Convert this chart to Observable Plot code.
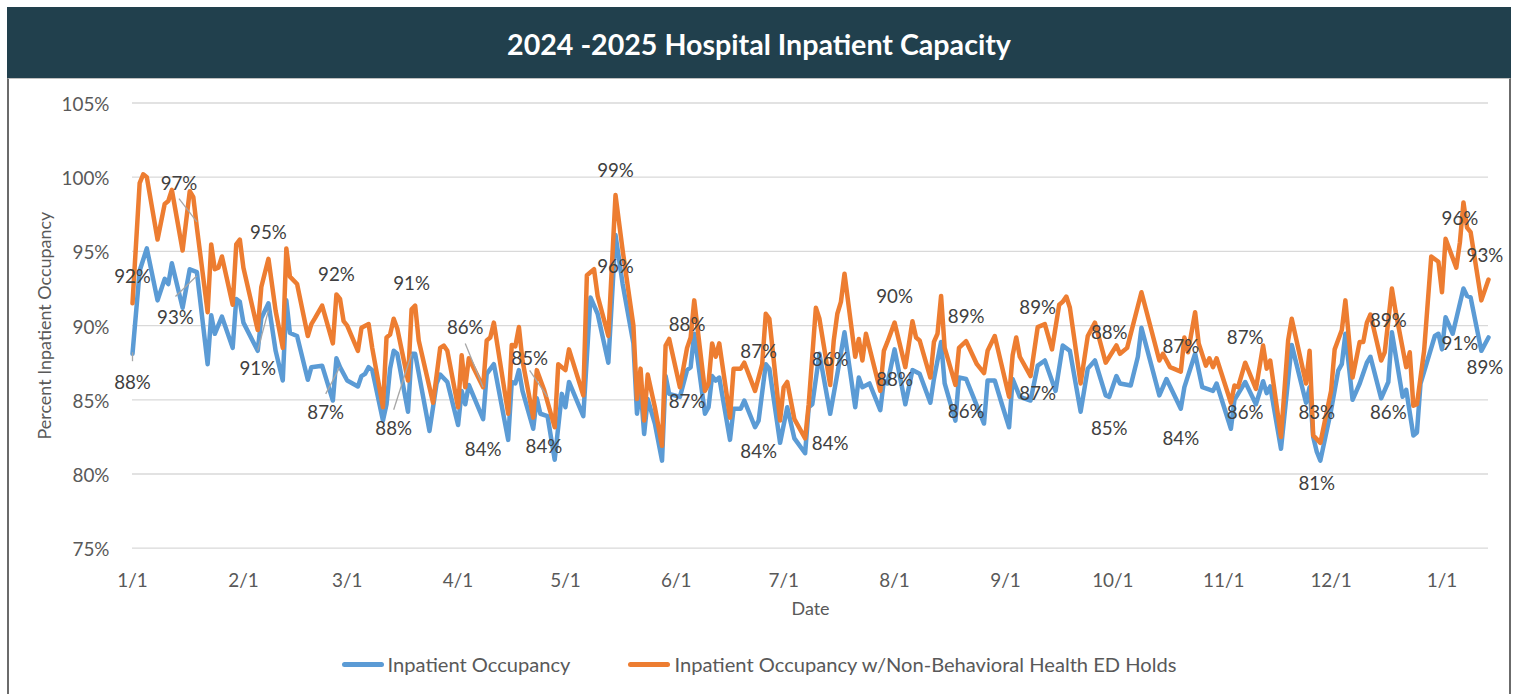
<!DOCTYPE html>
<html><head><meta charset="utf-8">
<script src="https://cdn.jsdelivr.net/npm/d3@7"></script>
<script src="https://cdn.jsdelivr.net/npm/@observablehq/plot@0.6"></script>
<style>
html,body{margin:0;padding:0;background:#fff;}
body{width:1518px;height:694px;position:relative;overflow:hidden;font-family:Lato,sans-serif;}
#titlebar{position:absolute;left:7px;top:7px;width:1504px;height:71px;background:#21404d;color:#fff;font-weight:700;display:flex;align-items:center;justify-content:center;box-sizing:border-box;padding-top:3px;}
#frame{position:absolute;left:7px;top:78px;width:1500px;height:640px;border-left:2px solid #6b6b6b;border-right:2px solid #6b6b6b;border-top:1px solid #bfbfbf;}
#chart{position:absolute;left:0;top:78px;}
#legend{position:absolute;left:0;top:648px;width:1518px;height:32px;display:flex;align-items:center;justify-content:center;color:#595959;}
.item{display:flex;align-items:center;white-space:nowrap;}
.sw{display:inline-block;width:42px;height:5px;border-radius:3px;margin-right:4px;}
</style></head>
<body>
<div id="titlebar"></div><div id="frame"></div><div id="chart"></div><div id="legend"></div>
<script>
const titleText = "2024 -2025 Hospital Inpatient Capacity";
const yTitle = "Percent Inpatient Occupancy";
const xTitle = "Date";
const seriesNames = ["Inpatient Occupancy", "Inpatient Occupancy w/Non-Behavioral Health ED Holds"];
const seriesColors = ["#5b9bd5", "#ed7d31"];
const yTicks = [75, 80, 85, 90, 95, 100, 105];
const xTicks = ["2024-01-01","2024-02-01","2024-03-01","2024-04-01","2024-05-01","2024-06-01","2024-07-01","2024-08-01","2024-09-01","2024-10-01","2024-11-01","2024-12-01","2025-01-01"];
const xDomain = ["2024-01-01", "2025-01-14"];

// Inpatient Occupancy (%) at the line's vertices
const occupancy = [
["2024-01-01",88.1],["2024-01-03",93.7],["2024-01-05",95.2],["2024-01-08",91.7],["2024-01-10",93.15],["2024-01-11",92.8],["2024-01-12",94.2],["2024-01-15",91.2],["2024-01-17",93.8],["2024-01-19",93.6],["2024-01-22",87.4],["2024-01-23",90.7],["2024-01-24",89.45],["2024-01-26",90.6],["2024-01-29",88.5],["2024-01-30",91.8],["2024-01-31",91.6],
["2024-02-01",90.2],["2024-02-05",88.3],["2024-02-06",90.5],["2024-02-08",91.5],["2024-02-10",88.3],["2024-02-12",86.3],["2024-02-13",91.7],["2024-02-14",89.5],["2024-02-16",89.3],["2024-02-19",86.35],["2024-02-20",87.2],["2024-02-23",87.3],["2024-02-26",84.95],["2024-02-27",87.8],["2024-02-28",87.2],
["2024-03-01",86.3],["2024-03-04",85.9],["2024-03-05",86.6],["2024-03-06",86.75],["2024-03-07",87.2],["2024-03-08",87.0],["2024-03-11",83.6],["2024-03-12",84.7],["2024-03-13",87.1],["2024-03-14",88.3],["2024-03-15",88.1],["2024-03-18",84.2],["2024-03-19",88.1],["2024-03-20",88.1],["2024-03-24",82.9],["2024-03-26",86.1],["2024-03-27",86.7],["2024-03-29",86.2],
["2024-04-01",83.3],["2024-04-02",85.6],["2024-04-03",84.7],["2024-04-04",86.0],["2024-04-08",83.7],["2024-04-09",86.75],["2024-04-11",87.4],["2024-04-15",82.3],["2024-04-16",86.2],["2024-04-17",86.1],["2024-04-18",87.0],["2024-04-19",85.6],["2024-04-22",83.05],["2024-04-23",85.1],["2024-04-24",84.06],["2024-04-26",83.9],["2024-04-28",80.96],["2024-04-30",85.4],
["2024-05-01",84.5],["2024-05-02",86.2],["2024-05-06",83.9],["2024-05-08",91.9],["2024-05-10",90.8],["2024-05-13",87.5],["2024-05-15",96.1],["2024-05-17",92.8],["2024-05-20",88.8],["2024-05-21",84.06],["2024-05-22",85.85],["2024-05-23",82.7],["2024-05-24",85.05],["2024-05-26",83.4],["2024-05-28",80.9],["2024-05-29",86.6],["2024-05-30",85.4],
["2024-06-02",85.2],["2024-06-04",87.0],["2024-06-05",87.2],["2024-06-06",89.45],["2024-06-09",84.06],["2024-06-10",84.5],["2024-06-11",86.6],["2024-06-12",86.3],["2024-06-13",86.5],["2024-06-16",82.3],["2024-06-17",84.4],["2024-06-19",84.4],["2024-06-20",84.95],["2024-06-23",83.15],["2024-06-24",83.6],["2024-06-26",87.4],["2024-06-27",87.1],["2024-06-30",82.1],
["2024-07-02",84.5],["2024-07-04",82.4],["2024-07-07",81.4],["2024-07-08",84.5],["2024-07-09",84.7],["2024-07-11",88.1],["2024-07-14",84.06],["2024-07-16",86.75],["2024-07-18",89.55],["2024-07-21",84.5],["2024-07-22",86.5],["2024-07-23",85.85],["2024-07-25",86.1],["2024-07-28",84.3],["2024-07-29",86.3],["2024-07-30",86.1],
["2024-08-01",88.4],["2024-08-04",84.7],["2024-08-06",87.0],["2024-08-08",86.75],["2024-08-11",84.8],["2024-08-12",86.4],["2024-08-14",88.9],["2024-08-15",86.1],["2024-08-18",83.6],["2024-08-19",86.5],["2024-08-21",86.4],["2024-08-23",85.2],["2024-08-26",83.4],["2024-08-27",86.3],["2024-08-29",86.3],["2024-08-31",84.7],
["2024-09-02",83.15],["2024-09-03",86.4],["2024-09-05",85.2],["2024-09-08",84.95],["2024-09-10",87.3],["2024-09-12",87.65],["2024-09-15",85.6],["2024-09-17",88.66],["2024-09-19",88.3],["2024-09-22",84.2],["2024-09-24",87.1],["2024-09-26",87.65],["2024-09-29",85.3],["2024-09-30",85.2],
["2024-10-02",86.6],["2024-10-03",86.1],["2024-10-06",85.96],["2024-10-08",87.9],["2024-10-09",89.85],["2024-10-14",85.3],["2024-10-16",86.4],["2024-10-20",84.4],["2024-10-21",85.85],["2024-10-24",88.1],["2024-10-25",86.97],["2024-10-26",85.85],["2024-10-29",85.6],["2024-10-30",86.1],
["2024-11-03",83.05],["2024-11-04",85.0],["2024-11-07",86.2],["2024-11-10",84.7],["2024-11-12",86.25],["2024-11-13",85.45],["2024-11-14",85.9],["2024-11-17",81.7],["2024-11-20",88.7],["2024-11-24",84.8],["2024-11-25",85.85],["2024-11-26",82.5],["2024-11-27",81.5],["2024-11-28",80.9],
["2024-12-01",84.3],["2024-12-03",86.97],["2024-12-04",87.4],["2024-12-05",89.45],["2024-12-07",85.0],["2024-12-09",86.1],["2024-12-11",87.5],["2024-12-12",87.9],["2024-12-15",85.1],["2024-12-17",86.2],["2024-12-18",89.55],["2024-12-21",85.2],["2024-12-22",85.67],["2024-12-24",82.6],["2024-12-25",82.8],["2024-12-26",86.1],["2024-12-30",89.3],["2024-12-31",89.45],
["2025-01-01",88.4],["2025-01-02",90.57],["2025-01-04",89.45],["2025-01-07",92.5],["2025-01-08",92.0],["2025-01-09",91.9],["2025-01-12",88.3],["2025-01-14",89.2]
];

// Inpatient Occupancy w/Non-Behavioral Health ED Holds (%)
const withHolds = [
["2024-01-01",91.5],["2024-01-03",99.6],["2024-01-04",100.2],["2024-01-05",100.0],["2024-01-08",95.8],["2024-01-10",98.2],["2024-01-11",98.4],["2024-01-12",99.15],["2024-01-15",95.06],["2024-01-17",99.06],["2024-01-18",98.65],["2024-01-19",96.6],["2024-01-22",90.9],["2024-01-23",95.47],["2024-01-24",93.8],["2024-01-25",93.9],["2024-01-26",94.66],["2024-01-29",91.4],["2024-01-30",95.47],["2024-01-31",95.8],
["2024-02-01",93.9],["2024-02-05",89.7],["2024-02-06",92.6],["2024-02-08",94.5],["2024-02-10",91.0],["2024-02-12",88.5],["2024-02-13",95.2],["2024-02-14",93.3],["2024-02-16",92.8],["2024-02-19",89.3],["2024-02-20",90.1],["2024-02-21",90.5],["2024-02-23",91.35],["2024-02-26",88.8],["2024-02-27",92.1],["2024-02-28",91.8],["2024-02-29",90.3],
["2024-03-01",90.0],["2024-03-04",88.3],["2024-03-05",89.85],["2024-03-07",90.1],["2024-03-08",88.5],["2024-03-11",84.5],["2024-03-12",89.2],["2024-03-13",89.4],["2024-03-14",90.46],["2024-03-15",89.8],["2024-03-18",86.3],["2024-03-19",91.1],["2024-03-20",91.35],["2024-03-21",89.0],["2024-03-25",84.8],["2024-03-27",88.5],["2024-03-28",88.65],["2024-03-29",88.3],
["2024-04-01",84.5],["2024-04-02",88.0],["2024-04-03",85.85],["2024-04-04",87.8],["2024-04-08",85.85],["2024-04-09",89.0],["2024-04-10",89.2],["2024-04-11",90.2],["2024-04-15",84.06],["2024-04-16",88.7],["2024-04-17",88.6],["2024-04-18",89.9],["2024-04-19",87.65],["2024-04-22",83.8],["2024-04-23",87.0],["2024-04-25",85.7],["2024-04-28",83.15],["2024-04-29",87.4],
["2024-05-01",87.0],["2024-05-02",88.4],["2024-05-06",85.3],["2024-05-07",93.4],["2024-05-09",93.8],["2024-05-10",92.0],["2024-05-13",89.3],["2024-05-15",98.8],["2024-05-17",95.06],["2024-05-20",90.0],["2024-05-21",85.05],["2024-05-22",87.1],["2024-05-23",83.6],["2024-05-24",86.7],["2024-05-26",84.5],["2024-05-28",81.9],["2024-05-29",88.66],["2024-05-30",89.1],
["2024-06-02",85.85],["2024-06-04",88.5],["2024-06-05",89.2],["2024-06-06",91.7],["2024-06-09",85.6],["2024-06-10",86.1],["2024-06-11",88.8],["2024-06-12",87.9],["2024-06-13",88.8],["2024-06-16",83.8],["2024-06-17",87.1],["2024-06-19",87.1],["2024-06-20",87.5],["2024-06-23",85.6],["2024-06-25",87.4],["2024-06-26",90.8],["2024-06-27",90.46],["2024-06-30",83.6],
["2024-07-01",85.85],["2024-07-02",86.2],["2024-07-04",83.7],["2024-07-07",82.4],["2024-07-08",84.7],["2024-07-10",91.2],["2024-07-11",90.46],["2024-07-14",86.0],["2024-07-15",89.0],["2024-07-16",90.8],["2024-07-17",91.6],["2024-07-18",93.5],["2024-07-21",87.9],["2024-07-22",89.1],["2024-07-23",87.65],["2024-07-24",89.45],["2024-07-28",85.6],["2024-07-29",88.3],["2024-07-30",88.9],
["2024-08-01",90.2],["2024-08-04",87.2],["2024-08-06",90.3],["2024-08-07",89.2],["2024-08-08",89.0],["2024-08-11",86.5],["2024-08-12",88.9],["2024-08-13",89.45],["2024-08-14",92.0],["2024-08-15",88.5],["2024-08-18",86.0],["2024-08-19",88.5],["2024-08-21",88.95],["2024-08-24",87.4],["2024-08-26",86.8],["2024-08-27",88.3],["2024-08-29",89.3],
["2024-09-02",85.2],["2024-09-03",88.0],["2024-09-04",89.2],["2024-09-05",87.9],["2024-09-08",86.6],["2024-09-10",89.9],["2024-09-12",90.1],["2024-09-14",88.4],["2024-09-16",91.4],["2024-09-17",91.6],["2024-09-18",91.96],["2024-09-19",91.2],["2024-09-22",86.1],["2024-09-24",89.3],["2024-09-26",90.2],["2024-09-29",87.5],
["2024-10-02",88.66],["2024-10-03",88.1],["2024-10-05",88.5],["2024-10-09",92.25],["2024-10-14",87.65],["2024-10-15",88.1],["2024-10-17",87.2],["2024-10-20",86.9],["2024-10-21",89.2],["2024-10-22",88.2],["2024-10-24",90.9],["2024-10-25",88.8],["2024-10-27",87.3],["2024-10-28",87.8],["2024-10-29",87.2],["2024-10-30",87.8],
["2024-11-03",84.8],["2024-11-04",85.96],["2024-11-05",85.85],["2024-11-07",87.5],["2024-11-10",85.74],["2024-11-12",88.66],["2024-11-13",87.1],["2024-11-14",87.65],["2024-11-17",82.5],["2024-11-19",89.0],["2024-11-20",90.46],["2024-11-24",86.1],["2024-11-25",88.3],["2024-11-26",82.6],["2024-11-28",82.1],
["2024-12-01",85.6],["2024-12-02",88.4],["2024-12-04",89.7],["2024-12-05",91.7],["2024-12-07",86.5],["2024-12-09",88.9],["2024-12-10",88.9],["2024-12-11",90.2],["2024-12-12",90.75],["2024-12-15",87.65],["2024-12-16",88.2],["2024-12-18",92.5],["2024-12-19",91.0],["2024-12-22",87.2],["2024-12-23",88.2],["2024-12-24",84.6],["2024-12-25",84.7],["2024-12-27",88.3],["2024-12-29",94.66],["2024-12-31",94.3],
["2025-01-01",92.25],["2025-01-02",95.85],["2025-01-05",93.9],["2025-01-06",95.6],["2025-01-07",98.3],["2025-01-08",96.6],["2025-01-09",96.3],["2025-01-12",91.7],["2025-01-14",93.1]
];

// data labels: [date, position (%), text]
const dataLabels = [
["2024-01-01",93.26,"92%"],["2024-01-01",86.1,"88%"],["2024-01-14",99.56,"97%"],["2024-01-13",90.48,"93%"],
["2024-02-08",96.23,"95%"],["2024-02-05",87.09,"91%"],["2024-02-27",93.44,"92%"],["2024-02-24",84.08,"87%"],
["2024-03-19",92.82,"91%"],["2024-03-14",83.05,"88%"],["2024-04-03",89.85,"86%"],["2024-04-08",81.63,"84%"],
["2024-04-21",87.76,"85%"],["2024-04-25",81.8,"84%"],["2024-05-15",100.45,"99%"],["2024-05-15",93.94,"96%"],
["2024-06-04",90.07,"88%"],["2024-06-04",84.84,"87%"],["2024-06-24",88.2,"87%"],["2024-06-24",81.47,"84%"],
["2024-07-14",87.7,"86%"],["2024-07-14",82.03,"84%"],["2024-08-01",91.91,"90%"],["2024-08-01",86.35,"88%"],
["2024-08-21",90.61,"89%"],["2024-08-21",84.16,"86%"],["2024-09-10",91.2,"89%"],["2024-09-10",85.4,"87%"],
["2024-09-30",89.49,"88%"],["2024-09-30",83.05,"85%"],["2024-10-20",88.54,"87%"],["2024-10-20",82.37,"84%"],
["2024-11-07",89.18,"87%"],["2024-11-07",84.1,"86%"],["2024-11-27",84.1,"83%"],["2024-11-27",79.34,"81%"],
["2024-12-17",90.3,"89%"],["2024-12-17",84.1,"86%"],["2025-01-06",97.19,"96%"],["2025-01-06",88.77,"91%"],
["2025-01-13",94.72,"93%"],["2025-01-13",87.16,"89%"]
];

// leader lines of moved data labels: [date1, %1, date2, %2]
const leaderLines = [
["2024-01-01",87.6,"2024-01-01",88.2],["2024-01-14",98.56,"2024-01-19",96.99],["2024-01-13",91.96,"2024-01-19",93.36],
["2024-02-05",88.33,"2024-02-08",91.03],["2024-02-24",85.4,"2024-02-28",87.23],["2024-03-14",84.33,"2024-03-19",88.1],
["2024-04-03",88.8,"2024-04-08",85.84],["2024-04-21",86.98,"2024-04-26",85.2]
];

const D = s => new Date(s + "T00:00:00Z");
const ctx = document.createElement("canvas").getContext("2d");
function fit(text, weight, target) {
  ctx.font = `${weight} 100px Lato`;
  return 100 * target / ctx.measureText(text).width;
}
const titleSize = fit(titleText, 700, 504);
const tickSize = fit("105%", 400, 48);
const labelSize = fit("88%", 400, 36.7);
const axisTitleSize = fit(yTitle, 400, 228);
const legendSize = fit(seriesNames[0], 400, 183);

const tb = document.getElementById("titlebar");
tb.textContent = titleText;
tb.style.fontSize = titleSize + "px";

const occRows = occupancy.map(([d, v]) => ({date: D(d), value: v}));
const holdRows = withHolds.map(([d, v]) => ({date: D(d), value: v}));
const labelRows = dataLabels.map(([d, v, t]) => ({date: D(d), value: v, text: t}));
const leaderRows = leaderLines.map(([d1, v1, d2, v2]) => ({d1: D(d1), v1, d2: D(d2), v2}));

const chart = Plot.plot({
  width: 1518, height: 560,
  marginLeft: 132, marginRight: 30, marginTop: 24.5, marginBottom: 90.3,
  style: {background: "transparent", fontFamily: "Lato, sans-serif", overflow: "visible"},
  x: {type: "utc", domain: xDomain.map(D)},
  y: {domain: [yTicks[0], yTicks[yTicks.length - 1]]},
  marks: [
    Plot.gridY(yTicks, {stroke: "#d9d9d9", strokeOpacity: 1, strokeWidth: 1.3}),
    Plot.axisY(yTicks, {tickSize: 0, tickPadding: 23, tickFormat: d => d + "%", fontSize: tickSize, color: "#595959", dy: 2, label: null}),
    Plot.axisX(xTicks.map(D), {tickSize: 0, tickPadding: 32.3 - 0.35 * tickSize, tickFormat: d3.utcFormat("%-m/%-d"), fontSize: tickSize, color: "#595959", label: null}),
    Plot.text([yTitle], {frameAnchor: "left", textAnchor: "middle", dx: -87, rotate: -90, lineAnchor: "middle", fontSize: axisTitleSize, fill: "#595959"}),
    Plot.text([xTitle], {frameAnchor: "bottom", dy: 61.3, lineAnchor: "middle", fontSize: axisTitleSize, fill: "#595959"}),
    Plot.line(occRows, {x: "date", y: "value", stroke: seriesColors[0], strokeWidth: 4.5, strokeLinejoin: "round", strokeLinecap: "round"}),
    Plot.line(holdRows, {x: "date", y: "value", stroke: seriesColors[1], strokeWidth: 4.5, strokeLinejoin: "round", strokeLinecap: "round"}),
    Plot.link(leaderRows, {x1: "d1", y1: "v1", x2: "d2", y2: "v2", stroke: "#a6a6a6", strokeWidth: 1.3}),
    Plot.text(labelRows, {x: "date", y: "value", text: "text", lineAnchor: "middle", fontSize: labelSize, fill: "#404040"})
  ]
});
document.getElementById("chart").appendChild(chart);

const legend = document.getElementById("legend");
legend.style.fontSize = legendSize + "px";
seriesNames.forEach((name, i) => {
  const item = document.createElement("div");
  item.className = "item";
  if (i > 0) item.style.marginLeft = "58px";
  const sw = document.createElement("span");
  sw.className = "sw";
  sw.style.background = seriesColors[i];
  const tx = document.createElement("span");
  tx.textContent = name;
  item.appendChild(sw); item.appendChild(tx);
  legend.appendChild(item);
});
</script>
</body></html>
